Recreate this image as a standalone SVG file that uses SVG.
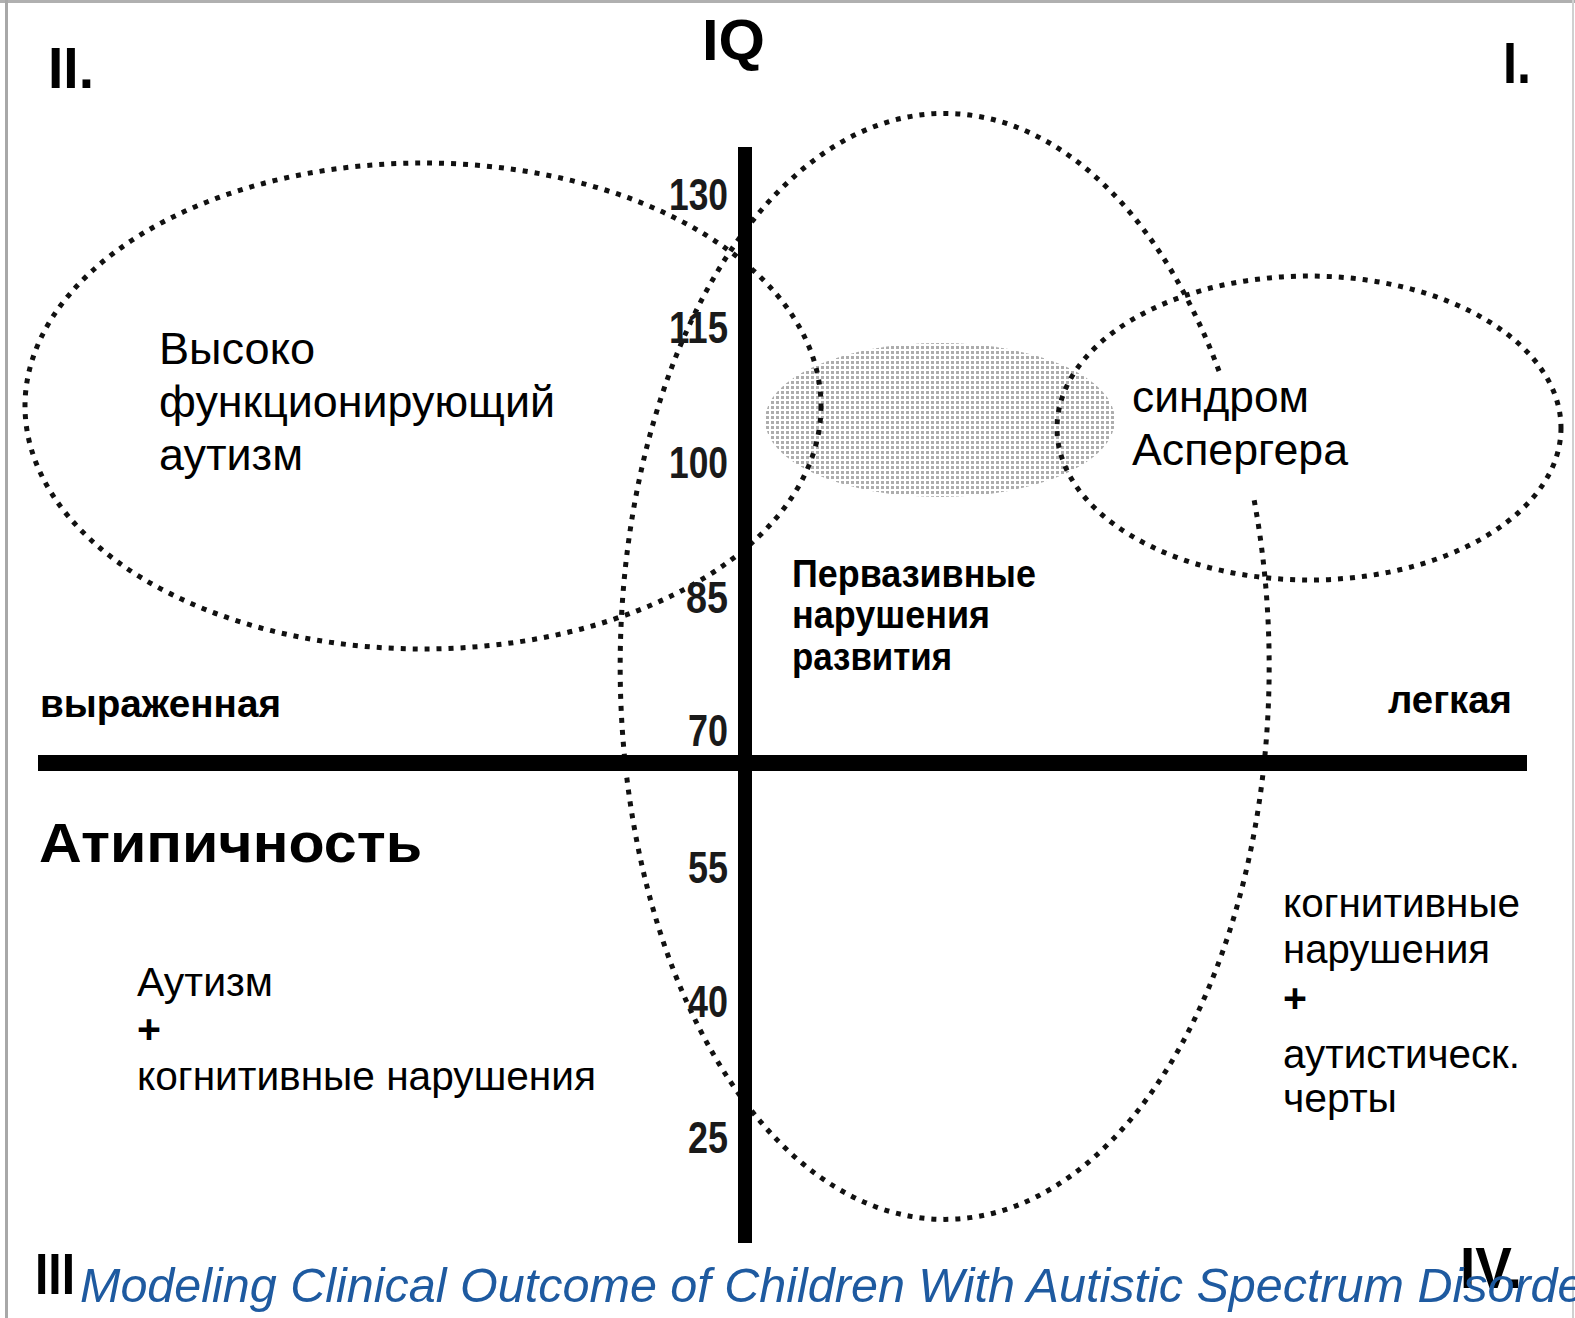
<svg xmlns="http://www.w3.org/2000/svg" width="1575" height="1318" viewBox="0 0 1575 1318">
<style>
.dot{fill:none;stroke:#111;stroke-width:5;stroke-dasharray:5 7}
.ax{fill:#000}
.t{font-family:"Liberation Sans",Arial,sans-serif;fill:#000}
.r{font-size:44px}
.s{font-size:41px}
.b{font-size:38px;font-weight:bold}
.n{font-size:45px;font-weight:bold;fill:#1a1a1a}
.q{font-size:58px;font-weight:bold}
.cap{font-family:"Liberation Sans",Arial,sans-serif;font-style:italic;font-size:48.5px;fill:#1e5aa0}
</style>
<defs>
<pattern id="stip" width="5" height="5" patternUnits="userSpaceOnUse">
<rect x="1" y="1" width="3" height="3" fill="#adadad"/>
</pattern>
</defs>
<rect width="1575" height="1318" fill="#fff"/>
<g id="frame">
<rect x="0" y="0" width="1575" height="3" fill="#b0b0b0"/>
<rect x="5" y="0" width="3" height="1318" fill="#a8a8a8"/>
<rect x="1572" y="0" width="2" height="1318" fill="#d0d0d0"/>
</g>
<g id="shaded-region">
<ellipse cx="940" cy="420" rx="175" ry="77" fill="url(#stip)"/>
</g>
<g id="connectors">
<ellipse id="hfa-ellipse" class="dot" cx="423" cy="406" rx="398" ry="243"/>
<path id="pdd-ellipse" class="dot" d="M 1219 369 A 324.5 553 0 1 0 1253 492" transform="translate(0,2)"/>
<ellipse id="asperger-ellipse" class="dot" cx="1309" cy="428" rx="252" ry="152"/>
</g>
<g id="axes">
<rect class="ax" x="738" y="147" width="14" height="1096"/>
<rect class="ax" x="38" y="755" width="1489" height="16"/>
</g>
<g id="iq-ticks">
<text class="t n" x="669" y="210" textLength="59" lengthAdjust="spacingAndGlyphs">130</text>
<text class="t n" x="669" y="343" textLength="59" lengthAdjust="spacingAndGlyphs">115</text>
<text class="t n" x="669" y="478" textLength="59" lengthAdjust="spacingAndGlyphs">100</text>
<text class="t n" x="686" y="613" textLength="42" lengthAdjust="spacingAndGlyphs">85</text>
<text class="t n" x="688" y="746" textLength="40" lengthAdjust="spacingAndGlyphs">70</text>
<text class="t n" x="688" y="883" textLength="40" lengthAdjust="spacingAndGlyphs">55</text>
<text class="t n" x="688" y="1017" textLength="40" lengthAdjust="spacingAndGlyphs">40</text>
<text class="t n" x="688" y="1153" textLength="40" lengthAdjust="spacingAndGlyphs">25</text>
</g>
<g id="quadrants">
<text class="t q" x="48" y="88" textLength="46" lengthAdjust="spacingAndGlyphs">II.</text>
<text class="t q" x="702" y="60" textLength="63" lengthAdjust="spacingAndGlyphs">IQ</text>
<text class="t q" x="1503" y="83" textLength="28" lengthAdjust="spacingAndGlyphs">I.</text>
<text class="t q" x="35" y="1294" textLength="40" lengthAdjust="spacingAndGlyphs">III</text>
<text class="t q" x="1460" y="1288" textLength="62" lengthAdjust="spacingAndGlyphs">IV.</text>
</g>
<g id="node-hfa">
<text class="t r" x="159" y="364" textLength="156" lengthAdjust="spacingAndGlyphs">Высоко</text>
<text class="t r" x="159" y="417" textLength="396" lengthAdjust="spacingAndGlyphs">функционирующий</text>
<text class="t r" x="159" y="470" textLength="144" lengthAdjust="spacingAndGlyphs">аутизм</text>
</g>
<g id="node-asperger">
<text class="t r" x="1132" y="412" textLength="177" lengthAdjust="spacingAndGlyphs">синдром</text>
<text class="t r" x="1132" y="465" textLength="216" lengthAdjust="spacingAndGlyphs">Аспергера</text>
</g>
<g id="node-pdd">
<text class="t b" x="792" y="587" textLength="244" lengthAdjust="spacingAndGlyphs">Первазивные</text>
<text class="t b" x="792" y="628" textLength="198" lengthAdjust="spacingAndGlyphs">нарушения</text>
<text class="t b" x="792" y="670" textLength="160" lengthAdjust="spacingAndGlyphs">развития</text>
</g>
<g id="severity">
<text class="t b" x="40" y="717" textLength="241" lengthAdjust="spacingAndGlyphs">выраженная</text>
<text class="t b" x="1388" y="713" textLength="124" lengthAdjust="spacingAndGlyphs">легкая</text>
</g>
<g id="atypical">
<text class="t" x="39" y="862" font-size="56" font-weight="bold" textLength="383" lengthAdjust="spacingAndGlyphs">Атипичность</text>
</g>
<g id="node-autism-cognitive">
<text class="t s" x="137" y="996" textLength="136" lengthAdjust="spacingAndGlyphs">Аутизм</text>
<text class="t s" x="137" y="1043" font-weight="bold">+</text>
<text class="t s" x="137" y="1090" textLength="459" lengthAdjust="spacingAndGlyphs">когнитивные нарушения</text>
</g>
<g id="node-cognitive-autistic">
<text class="t s" x="1283" y="917" textLength="237" lengthAdjust="spacingAndGlyphs">когнитивные</text>
<text class="t s" x="1283" y="963" textLength="207" lengthAdjust="spacingAndGlyphs">нарушения</text>
<text class="t s" x="1283" y="1012" font-weight="bold">+</text>
<text class="t s" x="1283" y="1068" textLength="237" lengthAdjust="spacingAndGlyphs">аутистическ.</text>
<text class="t s" x="1283" y="1112" textLength="114" lengthAdjust="spacingAndGlyphs">черты</text>
</g>
<g id="caption">
<text class="cap" x="80" y="1302">Modeling Clinical Outcome of Children With Autistic Spectrum Disorders</text>
</g>
</svg>
